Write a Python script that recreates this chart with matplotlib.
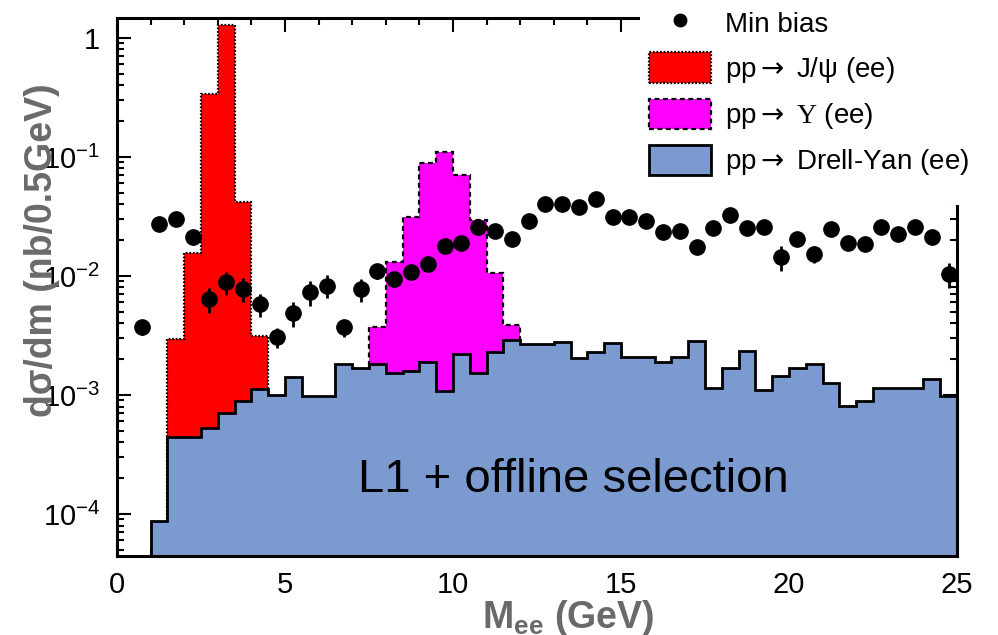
import numpy as np
import matplotlib
matplotlib.use("Agg")
import matplotlib.pyplot as plt
from matplotlib.patches import Patch, Rectangle
from matplotlib.lines import Line2D
from matplotlib.ticker import FixedLocator, LogLocator, MultipleLocator, FuncFormatter, NullFormatter

plt.rcParams['font.family'] = ['Liberation Sans', 'DejaVu Sans']
plt.rcParams['mathtext.fontset'] = 'custom'
plt.rcParams['mathtext.rm'] = 'Liberation Sans'
plt.rcParams['mathtext.bf'] = 'Liberation Sans:bold'
plt.rcParams['mathtext.it'] = 'Liberation Sans:italic'
plt.rcParams['mathtext.sf'] = 'DejaVu Sans'       # arrows
plt.rcParams['mathtext.tt'] = 'Liberation Serif'  # curly upsilon

# 0.5 GeV bins from 0 to 25 GeV
edges = np.arange(0, 25.01, 0.5)
centers = edges[:-1] + 0.25

# Drell-Yan (ee), one value per bin
dy = [0, 0, 8.8e-5, 4.4e-4, 4.4e-4, 5.3e-4, 7.0e-4, 8.9e-4, 1.12e-3, 1.0e-3,
      1.43e-3, 9.8e-4, 9.8e-4, 1.82e-3, 1.68e-3, 1.82e-3, 1.53e-3, 1.6e-3, 1.9e-3, 1.08e-3,
      2.2e-3, 1.53e-3, 2.29e-3, 2.92e-3, 2.69e-3, 2.69e-3, 2.79e-3, 2.04e-3, 2.3e-3, 2.74e-3,
      2.09e-3, 2.09e-3, 1.9e-3, 2.09e-3, 2.84e-3, 1.15e-3, 1.69e-3, 2.35e-3, 1.1e-3, 1.44e-3,
      1.69e-3, 1.81e-3, 1.26e-3, 8.1e-4, 8.9e-4, 1.15e-3, 1.15e-3, 1.15e-3, 1.36e-3, 9.8e-4]

# J/psi (ee): non-empty bins 1.5 - 4.5 GeV
jpsi = [0, 0, 0, 2.95e-3, 1.56e-2, 0.34, 1.29, 0.042, 3.15e-3] + [0] * 41

# Upsilon (ee): non-empty bins 7.5 - 12 GeV
ups = [0] * 15 + [3.7e-3, 1.31e-2, 3.1e-2, 8.9e-2, 0.110, 0.0706, 0.0295, 0.0106, 3.9e-3] + [0] * 26

# Min bias points, bins 0.5 - 25 GeV
mb = [3.7e-3, 0.0273, 0.0302, 0.0213, 6.4e-3, 8.9e-3, 7.8e-3, 5.8e-3, 3.07e-3, 4.9e-3,
      7.3e-3, 8.3e-3, 3.7e-3, 7.8e-3, 0.011, 9.4e-3, 0.0108, 0.0126, 0.0178, 0.0189,
      0.0258, 0.024, 0.0205, 0.0289, 0.0403, 0.0403, 0.038, 0.0444, 0.0314, 0.0314,
      0.029, 0.0234, 0.024, 0.0175, 0.0252, 0.0325, 0.0252, 0.0259, 0.0144, 0.0205,
      0.0153, 0.0248, 0.0189, 0.0185, 0.0259, 0.0225, 0.0259, 0.0213, 0.0104]
mb_err = [5e-4, 3e-3, 3e-3, 3e-3, 1.5e-3, 2e-3, 1.8e-3, 1.3e-3, 6e-4, 1.2e-3,
          1.7e-3, 1.8e-3, 6e-4, 1.7e-3, 1.5e-3, 1.3e-3, 1.4e-3, 1.6e-3, 2e-3, 2e-3,
          2.5e-3, 2.5e-3, 2e-3, 3e-3, 4e-3, 4e-3, 4e-3, 4.5e-3, 3e-3, 3e-3,
          3e-3, 2.5e-3, 2.5e-3, 2e-3, 2.5e-3, 3e-3, 2.5e-3, 2.5e-3, 3.3e-3, 2e-3,
          2.5e-3, 2.5e-3, 2e-3, 2e-3, 2.5e-3, 2.2e-3, 2.5e-3, 2e-3, 2.5e-3]

arrow = r'$\mathsf{\rightarrow}$'
labels = ['Min bias',
          'pp' + arrow + ' J/\u03c8 (ee)',
          'pp' + arrow + r' $\mathtt{\Upsilon}$ (ee)',
          'pp' + arrow + ' Drell-Yan (ee)']

ymin, ymax = 4.44e-5, 1.47
blue = '#7b9ad0'
grey = '#6a6a6a'

fig = plt.figure(figsize=(9.98, 6.35), dpi=100)
ax = fig.add_axes([0.1172, 0.1244, 0.8417, 0.8473])
ax.set_yscale('log')

base = 1e-7
ax.stairs(ups, edges, baseline=base, fill=True, color='#ff00ff', lw=0, zorder=3)
ax.stairs(ups, edges, baseline=base, color='black', lw=1.6, ls=(0, (2.2, 1.6)), zorder=3.05)
ax.stairs(jpsi, edges, baseline=base, fill=True, color='#ff0000', lw=0, zorder=3)
ax.stairs(jpsi, edges, baseline=base, color='black', lw=1.6, ls=(0, (0.8, 0.8)), zorder=3.05)
ax.stairs(dy, edges, baseline=base, fill=True, color=blue, lw=0, zorder=3.1)
ax.stairs(dy, edges, baseline=base, color='black', lw=2.0, zorder=3.2)

ax.errorbar(centers[1:], mb, yerr=mb_err, fmt='o', color='black', ms=11,
            elinewidth=2.0, capsize=0, zorder=4)

ax.set_xlim(0, 25)
ax.set_ylim(ymin, ymax)

ax.xaxis.set_major_locator(MultipleLocator(5))
ax.xaxis.set_minor_locator(MultipleLocator(1))
ax.yaxis.set_major_locator(FixedLocator([1e-4, 1e-3, 1e-2, 1e-1, 1]))
ax.yaxis.set_minor_locator(LogLocator(base=10, subs=np.arange(2, 10), numticks=20))
ax.yaxis.set_minor_formatter(NullFormatter())


def ylab(v, pos):
    e = int(round(np.log10(v)))
    return '1' if e == 0 else r'$\mathregular{10^{%d}}$' % e


ax.yaxis.set_major_formatter(FuncFormatter(ylab))
ax.tick_params(which='both', direction='in', top=True, right=True, width=1.5, labelsize=21)
ax.tick_params(which='major', length=10)
ax.tick_params(which='minor', length=5)
ax.tick_params(axis='x', pad=11)
ax.tick_params(axis='y', pad=12)
for sp in ax.spines.values():
    sp.set_linewidth(2.2)
    sp.set_zorder(4.5)

ax.text(13.57, 1.53e-4, 'L1 + offline selection', fontsize=34, ha='center',
        va='baseline', zorder=5)

fig.text(568 / 998, 1 - 628 / 635, r'$\mathbf{M_{ee}}$ (GeV)', fontsize=27,
         fontweight='bold', color=grey, ha='center', va='baseline')
fig.text(42 / 998, 1 - 250 / 635, 'd\u03c3/dm (nb/0.5GeV)', fontsize=27,
         fontweight='bold', color=grey, rotation=90, ha='center', va='center')

# white patch behind the legend in the top right corner
fig.patches.append(Rectangle((640 / 998, 1 - 205 / 635), 1, 1, transform=fig.transFigure,
                             facecolor='white', edgecolor='none', zorder=1))

handles = [
    Line2D([], [], marker='o', color='black', ls='none', ms=9),
    Patch(facecolor='#ff0000', edgecolor='black', lw=1.6, ls=(0, (0.8, 0.8))),
    Patch(facecolor='#ff00ff', edgecolor='black', lw=1.6, ls=(0, (2.2, 1.6))),
    Patch(facecolor=blue, edgecolor='black', lw=2.0, joinstyle='round'),
]
leg = fig.legend(handles, labels, loc='upper left', bbox_to_anchor=(649 / 998, 1 - 8 / 635),
                 frameon=False, fontsize=20, handlelength=2.23, handleheight=1.3,
                 labelspacing=0.5, handletextpad=0.5, borderpad=0, borderaxespad=0)
leg.set_zorder(5)

fig.savefig('out.png', dpi=100)
